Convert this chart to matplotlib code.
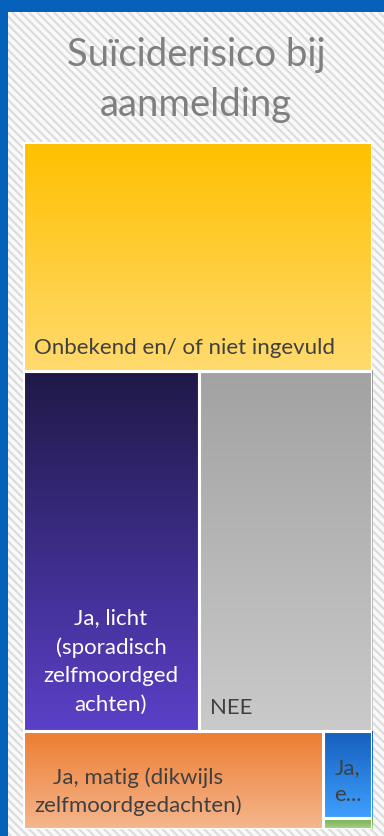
import numpy as np
import matplotlib
matplotlib.use("Agg")
import matplotlib.pyplot as plt
from matplotlib.patches import Rectangle
from matplotlib.colors import LinearSegmentedColormap

plt.rcParams['font.family'] = ['Lato', 'DejaVu Sans']
plt.rcParams['hatch.linewidth'] = 1.5

# Treemap data: suicide risk at intake
categories = ["Onbekend en/ of niet ingevuld",
              "Ja, licht (sporadisch zelfmoordgedachten)",
              "NEE",
              "Ja, matig (dikwijls zelfmoordgedachten)",
              "Ja, ernstig",
              "Ja, acuut"]
counts = [150, 119, 117, 55, 8, 1]
tile_labels = ["Onbekend en/ of niet ingevuld",
               "Ja, licht\n(sporadisch\nzelfmoordged\nachten)",
               "NEE",
               "Ja, matig (dikwijls\nzelfmoordgedachten)",
               "Ja,\ne...",
               ""]
# rows top to bottom, tiles inside a row left to right, nested lists stack again
groups = [[0], [1, 2], [3, [4, 5]]]

# gradient fills (top colour, bottom colour) and label colours
fills = [("#FFC000", "#FFDA6E"),
         ("#1F1947", "#5B40C8"),
         ("#A2A2A2", "#CACACA"),
         ("#ED7D31", "#F5B68D"),
         ("#155FBC", "#3FA0FF"),
         ("#70AD47", "#A9D18E")]
text_colors = ["#404040", "white", "#404040", "#404040", "#404040", "#404040"]


def node_sum(node):
    if isinstance(node, list):
        return sum(node_sum(c) for c in node)
    return counts[node]


def slice_layout(node, x, y, w, h, horizontal, out):
    total = node_sum(node)
    pos = 0.0
    for c in node:
        frac = node_sum(c) / total
        if horizontal:
            box = (x + pos * w, y, frac * w, h)
        else:
            box = (x, y + h - (pos + frac) * h, w, frac * h)
        pos += frac
        if isinstance(c, list):
            slice_layout(c, *box, not horizontal, out)
        else:
            out[c] = box


W, H = 384, 836
fig = plt.figure(figsize=(W / 100, H / 100), dpi=100)
fig.patch.set_facecolor("white")

# striped background and the blue frame
fig.patches.append(Rectangle((0, 0), 1, 1, transform=fig.transFigure,
                             facecolor="#F9F9F9", edgecolor="#DCDCDC",
                             hatch="\\\\\\\\", lw=0, zorder=-10))
fig.patches.append(Rectangle((0, 0), 8 / W, 1, transform=fig.transFigure,
                             facecolor="#0561B9", lw=0, zorder=-5))
fig.patches.append(Rectangle((0, 1 - 12 / H), 1, 12 / H, transform=fig.transFigure,
                             facecolor="#0561B9", lw=0, zorder=-5))

fig.text(196 / W, 1 - 80 / H, "Suïciderisico bij\naanmelding", ha="center", va="center",
         fontsize=27.5, color="#7F7F7F", linespacing=1.45)

ax = fig.add_axes([23 / W, 7 / H, 349 / W, 687 / H])
ax.axis("off")

boxes = {}
slice_layout(groups, 0, 0, 1, 1, False, boxes)

grad = np.linspace(1, 0, 256).reshape(-1, 1)
px_x = 1 / 349
px_y = 1 / 687
for i, (x, y, w, h) in boxes.items():
    cmap = LinearSegmentedColormap.from_list("f%d" % i, fills[i])
    ax.imshow(grad, extent=(x, x + w, y, y + h), origin="lower", cmap=cmap,
              vmin=0, vmax=1, aspect="auto", interpolation="bilinear")
    ax.add_patch(Rectangle((x, y), w, h, fill=False, edgecolor="white", lw=2.2))

    if i == 1:
        ax.text(x + w / 2, y + 16 * px_y, tile_labels[i], ha="center", va="bottom",
                multialignment="center", fontsize=16, color=text_colors[i],
                linespacing=1.55)
    elif tile_labels[i]:
        ax.text(x + 11 * px_x, y + 13 * px_y, tile_labels[i], ha="left", va="bottom",
                multialignment="center", fontsize=16, color=text_colors[i],
                linespacing=1.45)

ax.set_xlim(0, 1)
ax.set_ylim(0, 1)

fig.savefig("out.png", dpi=100)
